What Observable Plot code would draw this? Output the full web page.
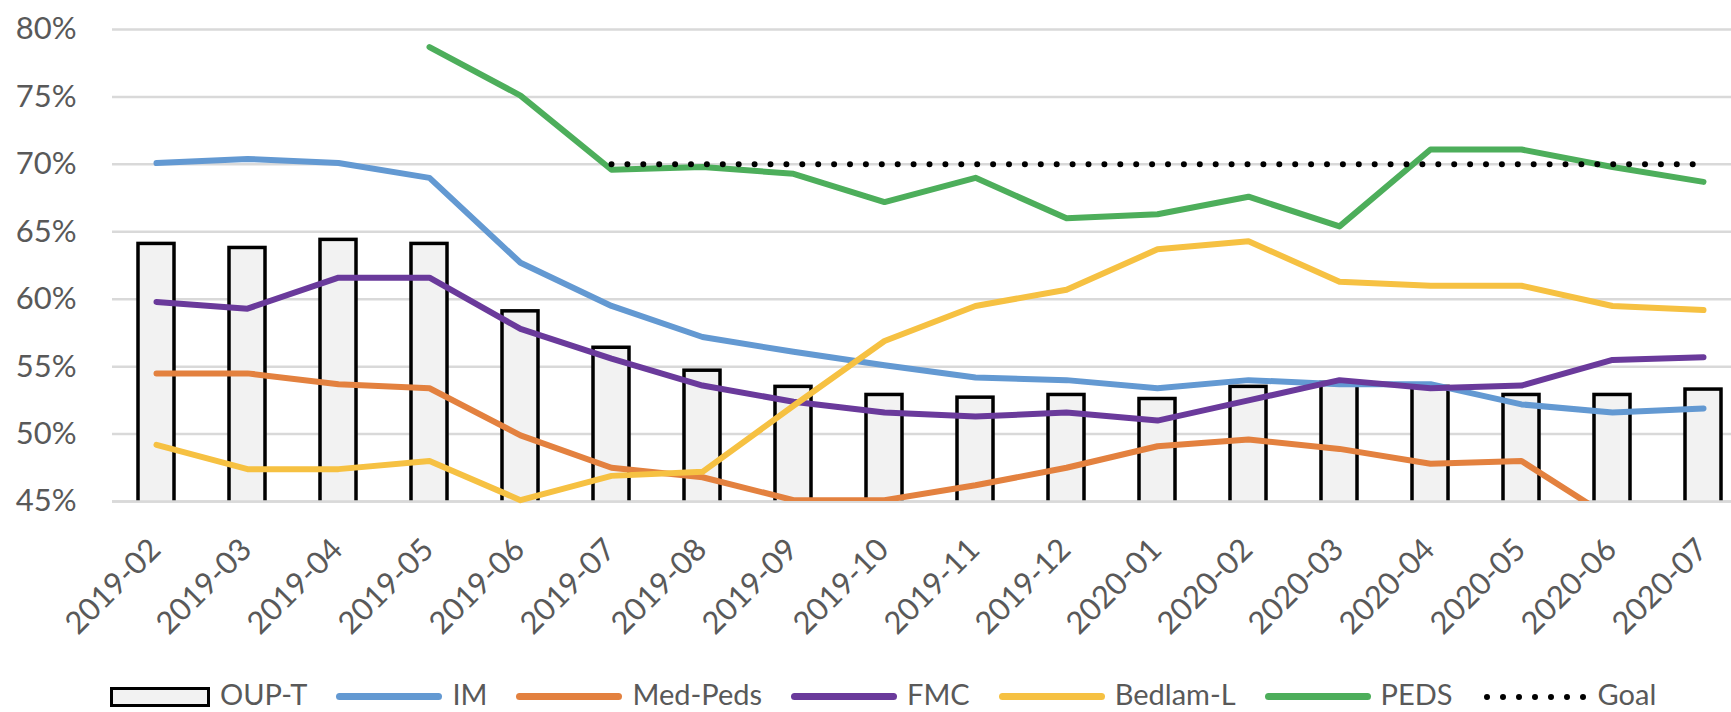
<!DOCTYPE html>
<html><head><meta charset="utf-8">
<script src="https://cdn.jsdelivr.net/npm/d3@7"></script>
<script src="https://cdn.jsdelivr.net/npm/@observablehq/plot@0.6"></script>
<style>
html,body{margin:0;padding:0;background:#fff;overflow:hidden;width:1731px;height:712px;}
#chart{position:relative;width:1731px;height:712px;font-family:Lato,sans-serif;color:#595959;}
#legend{position:absolute;left:110px;top:676px;height:35px;display:flex;align-items:center;font-size:29px;white-space:nowrap;}
.item{display:flex;align-items:center;margin-right:29px;}
.item span{margin-left:10px;line-height:normal;}
.sw{position:relative;top:3px;}
.rect{width:100px;height:20px;box-sizing:border-box;border:3.5px solid #000;background:#f2f2f2;}
.ln{width:106px;height:7px;border-radius:4px;}
</style></head>
<body>
<div id="chart"></div>
<script>
const months = ["2019-02","2019-03","2019-04","2019-05","2019-06","2019-07","2019-08","2019-09","2019-10","2019-11","2019-12","2020-01","2020-02","2020-03","2020-04","2020-05","2020-06","2020-07"];
const oupT    = [64.1,63.8,64.4,64.1,59.1,56.4,54.7,53.5,52.9,52.7,52.9,52.6,53.5,53.8,53.5,52.9,52.9,53.3];
const im      = [70.1,70.4,70.1,69.0,62.7,59.5,57.2,56.1,55.1,54.2,54.0,53.4,54.0,53.7,53.7,52.2,51.6,51.9];
const medPeds = [54.5,54.5,53.7,53.4,49.9,47.5,46.8,45.1,45.1,46.2,47.5,49.1,49.6,48.9,47.8,48.0,43.7,null];
const fmc     = [59.8,59.3,61.6,61.6,57.8,55.6,53.6,52.4,51.6,51.3,51.6,51.0,52.5,54.0,53.4,53.6,55.5,55.7];
const bedlamL = [49.2,47.4,47.4,48.0,45.1,46.9,47.2,52.1,56.9,59.5,60.7,63.7,64.3,61.3,61.0,61.0,59.5,59.2];
const peds    = [null,null,null,78.7,75.1,69.6,69.8,69.3,67.2,69.0,66.0,66.3,67.6,65.4,71.1,71.1,69.8,68.7];
const goal    = [null,null,null,null,null,70,70,70,70,70,70,70,70,70,70,70,70,70];
const yTicks  = [45,50,55,60,65,70,75,80];

const series = [
  {name:"IM", values: im, color:"#6399d2", clip:false},
  {name:"Med-Peds", values: medPeds, color:"#e3813f", clip:true},
  {name:"FMC", values: fmc, color:"#6a3a9b", clip:false},
  {name:"Bedlam-L", values: bedlamL, color:"#f6c142", clip:false},
  {name:"PEDS", values: peds, color:"#4dae5b", clip:false}
];
const rows = v => months.map((m,i) => ({month:m, value:v[i]}));

const lineMarks = series.map(s => Plot.line(rows(s.values), {
  x:"month", y:"value", stroke:s.color, strokeWidth:6,
  strokeLinecap:"round", strokeLinejoin:"round", clip:s.clip
}));

const plot = Plot.plot({
  width:1731, height:676,
  marginTop:29, marginBottom:175, marginLeft:112, marginRight:0,
  style:{fontFamily:"Lato, sans-serif", fontSize:"31px", color:"#595959", background:"white"},
  x:{type:"band", domain:months, range:[110.9,1749], paddingInner:0.6, paddingOuter:0.3, axis:null},
  y:{domain:[45,80], axis:null},
  marks:[
    Plot.ruleY(yTicks, {stroke:"#d9d9d9", strokeWidth:2.5}),
    Plot.barY(rows(oupT), {x:"month", y1:44, y2:"value", fill:"#f2f2f2", stroke:"#000", strokeWidth:3.5, clip:true}),
    Plot.ruleY([45], {stroke:"#d9d9d9", strokeWidth:2.5}),
    ...lineMarks,
    Plot.line(rows(goal), {x:"month", y:"value", stroke:"#000", strokeWidth:6, strokeDasharray:"0 15.9", strokeLinecap:"round"}),
    Plot.axisY(yTicks, {tickFormat:d => d + "%", tickSize:0, tickPadding:36, fontSize:31, label:null}),
    Plot.text(months, {x:d => d, text:d => d, frameAnchor:"bottom", rotate:-45, textAnchor:"end", lineAnchor:"bottom", dx:6, dy:50, fontSize:31, fill:"#595959"})
  ]
});
const chart = document.getElementById("chart");
chart.appendChild(plot);

const legend = document.createElement("div");
legend.id = "legend";
const items = [{name:"OUP-T", type:"rect"}, ...series.map(s => ({name:s.name, type:"line", color:s.color})), {name:"Goal", type:"dots"}];
for (const it of items) {
  const d = document.createElement("div");
  d.className = "item";
  let sw;
  if (it.type === "rect") { sw = document.createElement("div"); sw.className = "sw rect"; }
  else if (it.type === "line") { sw = document.createElement("div"); sw.className = "sw ln"; sw.style.background = it.color; }
  else {
    sw = document.createElementNS("http://www.w3.org/2000/svg","svg");
    sw.setAttribute("class","sw");
    sw.setAttribute("width","106"); sw.setAttribute("height","10");
    const l = document.createElementNS("http://www.w3.org/2000/svg","line");
    l.setAttribute("x1","5"); l.setAttribute("x2","102"); l.setAttribute("y1","5"); l.setAttribute("y2","5");
    l.setAttribute("stroke","#000"); l.setAttribute("stroke-width","6"); l.setAttribute("stroke-linecap","round"); l.setAttribute("stroke-dasharray","0 16");
    sw.appendChild(l);
  }
  const t = document.createElement("span"); t.textContent = it.name;
  d.appendChild(sw); d.appendChild(t);
  legend.appendChild(d);
}
chart.appendChild(legend);
</script>
</body></html>
